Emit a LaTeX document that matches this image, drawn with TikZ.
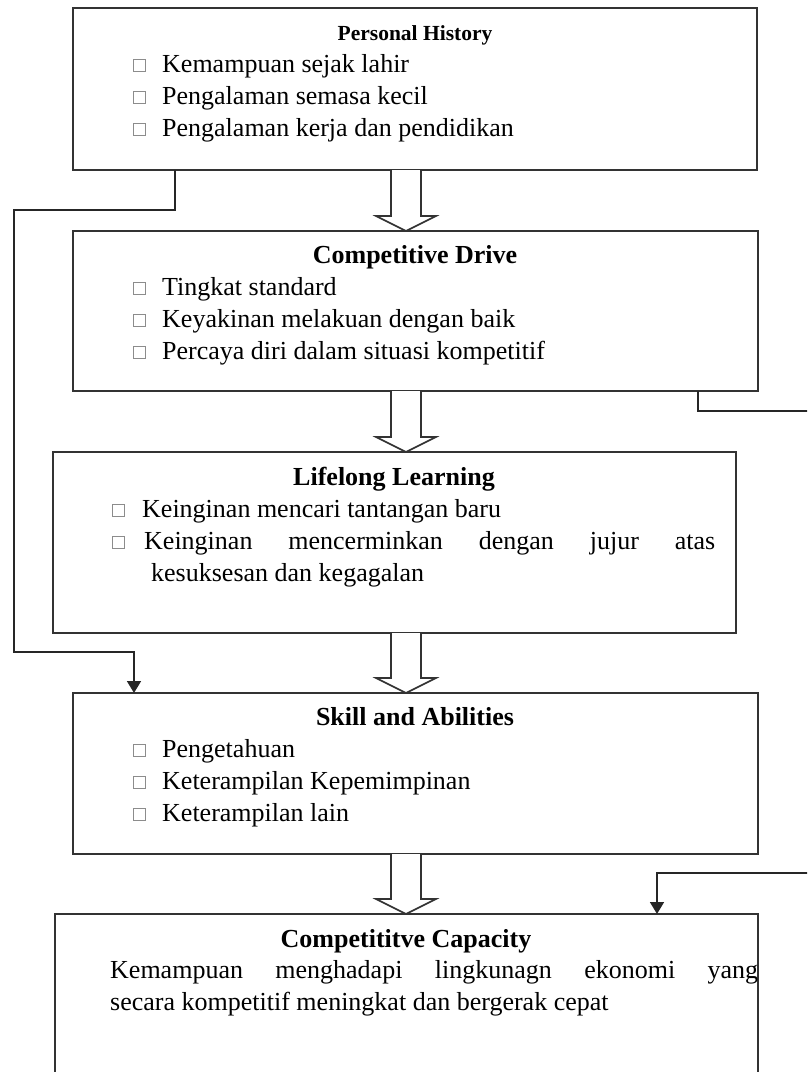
\documentclass[tikz,border=0pt]{standalone}
\usepackage{fontspec}
\setmainfont{Liberation Serif}
\usetikzlibrary{arrows.meta,calc}

\tikzset{
  box/.style={draw=black!80, line width=1.6pt, inner sep=0pt, outer sep=0pt},
  title/.style={font=\fontsize{26}{32}\selectfont\bfseries, inner sep=0pt, anchor=base},
  smalltitle/.style={font=\fontsize{21.5}{26}\selectfont\bfseries, inner sep=0pt, anchor=base},
  item/.style={font=\fontsize{26}{32}\selectfont, inner sep=0pt, anchor=base west},
  sq/.style={draw=black!45, line width=0.7pt},
  hollow/.style={draw=black!80, line width=1.6pt, fill=white, line join=miter},
  conn/.style={draw=black!85, line width=1.6pt},
  tip/.style={-{Triangle[length=12pt,width=14pt]}},
}

% small hollow square used as list marker: x, baseline
\newcommand\marksq[2]{\draw[sq] (#1,#2-1) rectangle ++(12,-12);}

% wide hollow arrow pointing down from one box to the next
\newcommand\hollowdown[2]{%
  \draw[hollow] ($(#1.south -| ax)+(-15,0)$) -- ($(#2.north -| ax)+(-15,-15)$)
    -- ($(#2.north -| ax)+(-30,-15)$) -- (#2.north -| ax)
    -- ($(#2.north -| ax)+(30,-15)$) -- ($(#2.north -| ax)+(15,-15)$)
    -- ($(#1.south -| ax)+(15,0)$);}

\begin{document}
\begin{tikzpicture}[x=1pt,y=-1pt]
  \useasboundingbox (0,0) rectangle (807,1072);
  \clip (0,0) rectangle (807,1072);

  % boxes
  \node[box, minimum width=684pt, minimum height=162pt] (ph) at (415,89) {};
  \node[box, minimum width=685pt, minimum height=160pt] (dr) at (415.5,311) {};
  \node[box, minimum width=683pt, minimum height=181pt] (ll) at (394.5,542.5) {};
  \node[box, minimum width=685pt, minimum height=161pt] (sk) at (415.5,773.5) {};
  \node[box, minimum width=703pt, minimum height=190pt] (cp) at (406.5,1009) {};

  % helper positions for connectors
  \coordinate (ax) at (406,0);
  \coordinate (lA) at (175,0);
  \coordinate (lB) at (14,210);
  \coordinate (lC) at (14,652);
  \coordinate (lD) at (134,0);
  \coordinate (rA) at (698,0);
  \coordinate (rB) at (812,411);
  \coordinate (rC) at (812,873);
  \coordinate (rD) at (657,0);

  % hollow arrows between the boxes
  \hollowdown{ph}{dr}
  \hollowdown{dr}{ll}
  \hollowdown{ll}{sk}
  \hollowdown{sk}{cp}

  % side connectors
  \draw[conn, tip] (ph.south -| lA) |- (lB) -- (lC) -| (sk.north -| lD);
  \draw[conn, tip] (dr.south -| rA) |- (rB) -- (rC) -| (cp.north -| rD);

  % Personal History
  \node[smalltitle] (phT) at (415,40) {Personal History};
  \marksq{133}{72}  \node[item] (ph1) at (162,72)  {Kemampuan sejak lahir};
  \marksq{133}{104} \node[item] (ph2) at (162,104) {Pengalaman semasa kecil};
  \marksq{133}{136} \node[item] (ph3) at (162,136) {Pengalaman kerja dan pendidikan};

  % Competitive Drive
  \node[title] (drT) at (415,263) {Competitive Drive};
  \marksq{133}{295} \node[item] (dr1) at (162,295) {Tingkat standard};
  \marksq{133}{327} \node[item] (dr2) at (162,327) {Keyakinan melakuan dengan baik};
  \marksq{133}{359} \node[item] (dr3) at (162,359) {Percaya diri dalam situasi kompetitif};

  % Lifelong Learning
  \node[title] (llT) at (394,485) {Lifelong Learning};
  \marksq{112}{517} \node[item] (ll1) at (142,517) {Keinginan mencari tantangan baru};
  \marksq{112}{549} \node[item] (ll2) at (144,549) {\makebox[571pt][s]{Keinginan mencerminkan dengan jujur atas}};
  \node[item] (ll3) at (151,581) {kesuksesan dan kegagalan};

  % Skill and Abilities
  \node[title] (skT) at (415,725) {Skill and Abilities};
  \marksq{133}{757} \node[item] (sk1) at (162,757) {Pengetahuan};
  \marksq{133}{789} \node[item] (sk2) at (162,789) {Keterampilan Kepemimpinan};
  \marksq{133}{821} \node[item] (sk3) at (162,821) {Keterampilan lain};

  % Competititve Capacity
  \node[title] (cpT) at (406,947) {Competititve Capacity};
  \node[item] (cp1) at (110,978) {\makebox[648pt][s]{Kemampuan menghadapi lingkunagn ekonomi yang}};
  \node[item] (cp2) at (110,1010) {secara kompetitif meningkat dan bergerak cepat};
\end{tikzpicture}
\end{document}
